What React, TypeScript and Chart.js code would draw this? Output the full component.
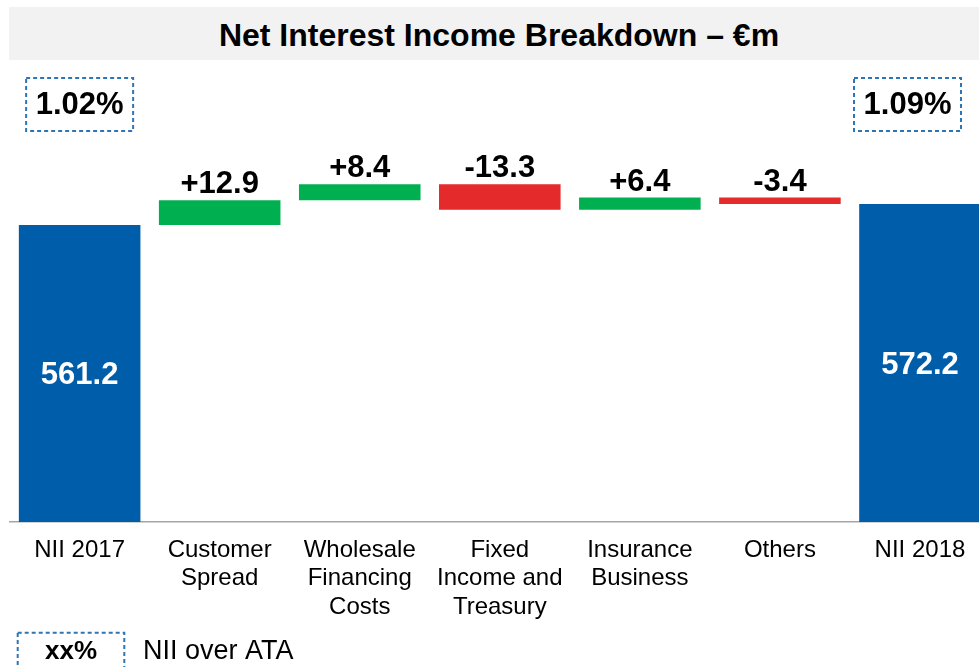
// Net Interest Income waterfall: NII 2017 -> drivers -> NII 2018
import { useEffect, useRef } from 'react';
import { Chart, registerables } from 'chart.js';
Chart.register(...registerables);

const categories = [
  ['NII 2017'],
  ['Customer', 'Spread'],
  ['Wholesale', 'Financing', 'Costs'],
  ['Fixed', 'Income and', 'Treasury'],
  ['Insurance', 'Business'],
  ['Others'],
  ['NII 2018'],
];
const niiStart = 561.2;
const niiEnd = 572.2;
const deltas = [12.9, 8.4, -13.3, 6.4, -3.4];
const ataRatios = ['1.02%', '1.09%'];
const legendSample = 'xx%';
const legendText = 'NII over ATA';

// value axis bounds (chart does not start at zero)
const Y_MIN = 405.6;
const Y_MAX = 642.4;

const FONT = '"Liberation Sans", Arial, Helvetica, sans-serif';
const BLUE = '#005DA9';
const GREEN = '#00B050';
const RED = '#E42A2A';
const DASH = '#2E75B6';

let run = niiStart;
const floating = deltas.map(d => {
  const seg = [run, run + d];
  run += d;
  return seg;
});
const barData: (number | number[])[] = [niiStart, ...floating, niiEnd];
const barColors = [BLUE, ...deltas.map(d => (d >= 0 ? GREEN : RED)), BLUE];
const valueLabels = [
  niiStart.toFixed(1),
  ...deltas.map(d => (d > 0 ? '+' : '') + d.toFixed(1)),
  niiEnd.toFixed(1),
];

const labelPlugin = {
  id: 'niiLabels',
  afterDatasetsDraw(chart: Chart) {
    const { ctx, chartArea } = chart;
    const bars = chart.getDatasetMeta(0).data;
    const last = bars.length - 1;
    ctx.save();
    ctx.textAlign = 'center';
    ctx.font = `bold 31px ${FONT}`;
    bars.forEach((bar, i) => {
      const { x, y, base } = bar.getProps(['x', 'y', 'base'], true) as any;
      const top = Math.min(y, base);
      const bottom = Math.max(y, base);
      if (i === 0 || i === last) {
        ctx.fillStyle = '#fff';
        ctx.textBaseline = 'middle';
        ctx.fillText(valueLabels[i], x, (top + bottom) / 2 + 2);
      } else {
        ctx.fillStyle = '#000';
        ctx.textBaseline = 'alphabetic';
        ctx.fillText(valueLabels[i], x, top - 7);
      }
    });

    // NII over ATA boxes above the two totals
    ctx.setLineDash([4, 3]);
    ctx.lineWidth = 2;
    ctx.strokeStyle = DASH;
    const bw = 107, bh = 53;
    [0, last].forEach((idx, k) => {
      const bx = Math.min(bars[idx].x, 979 - 18 - bw / 2);
      const by = chartArea.top + 8;
      ctx.strokeRect(bx - bw / 2, by, bw, bh);
      ctx.fillStyle = '#000';
      ctx.textBaseline = 'middle';
      ctx.fillText(ataRatios[k], bx, by + bh / 2 + 1);
    });

    // legend at the foot
    ctx.strokeRect(17.7, 632.7, 106.6, 60);
    ctx.font = `bold 26px ${FONT}`;
    ctx.fillText(legendSample, 71, 652);
    ctx.textAlign = 'left';
    ctx.font = `27px ${FONT}`;
    ctx.fillText(legendText, 143, 652);
    ctx.restore();
  },
};

export default function App() {
  const canvasRef = useRef<HTMLCanvasElement>(null);

  useEffect(() => {
    const canvas = canvasRef.current;
    if (!canvas) return;
    const chart = new Chart(canvas, {
      type: 'bar',
      data: {
        labels: categories,
        datasets: [{
          data: barData as any,
          base: Y_MIN,
          backgroundColor: barColors,
          borderWidth: 0,
          barPercentage: 0.868,
          categoryPercentage: 1,
        }],
      },
      options: {
        responsive: true,
        maintainAspectRatio: false,
        animation: false,
        layout: { padding: { left: 9.6, right: 0, top: 70, bottom: 0 } },
        plugins: {
          legend: { display: false },
          tooltip: { enabled: false },
          title: { display: false },
        },
        scales: {
          x: {
            grid: { display: false, drawTicks: false },
            border: { display: true, color: '#A6A6A6', width: 1.5 },
            ticks: {
              color: '#000',
              font: { family: FONT, size: 24, lineHeight: 1.19 },
              padding: 14,
              maxRotation: 0,
              autoSkip: false,
            },
            afterFit: (scale: any) => { scale.height = 145; },
          },
          y: {
            display: false,
            min: Y_MIN,
            max: Y_MAX,
          },
        },
      },
      plugins: [labelPlugin],
    });
    return () => chart.destroy();
  }, []);

  return (
    <div style={{ position: 'absolute', left: 0, top: 0, width: 979, height: 667, overflow: 'hidden', background: '#fff' }}>
      <div style={{
        position: 'absolute', left: 9, top: 7, width: 980, height: 53,
        background: '#F2F2F2', fontFamily: FONT, fontWeight: 'bold', fontSize: 32,
        lineHeight: '56px', textAlign: 'center', color: '#000',
      }}>
        Net Interest Income Breakdown – €m
      </div>
      <div style={{ position: 'absolute', left: 0, top: 0, width: 990, height: 667 }}>
        <canvas ref={canvasRef} />
      </div>
    </div>
  );
}
